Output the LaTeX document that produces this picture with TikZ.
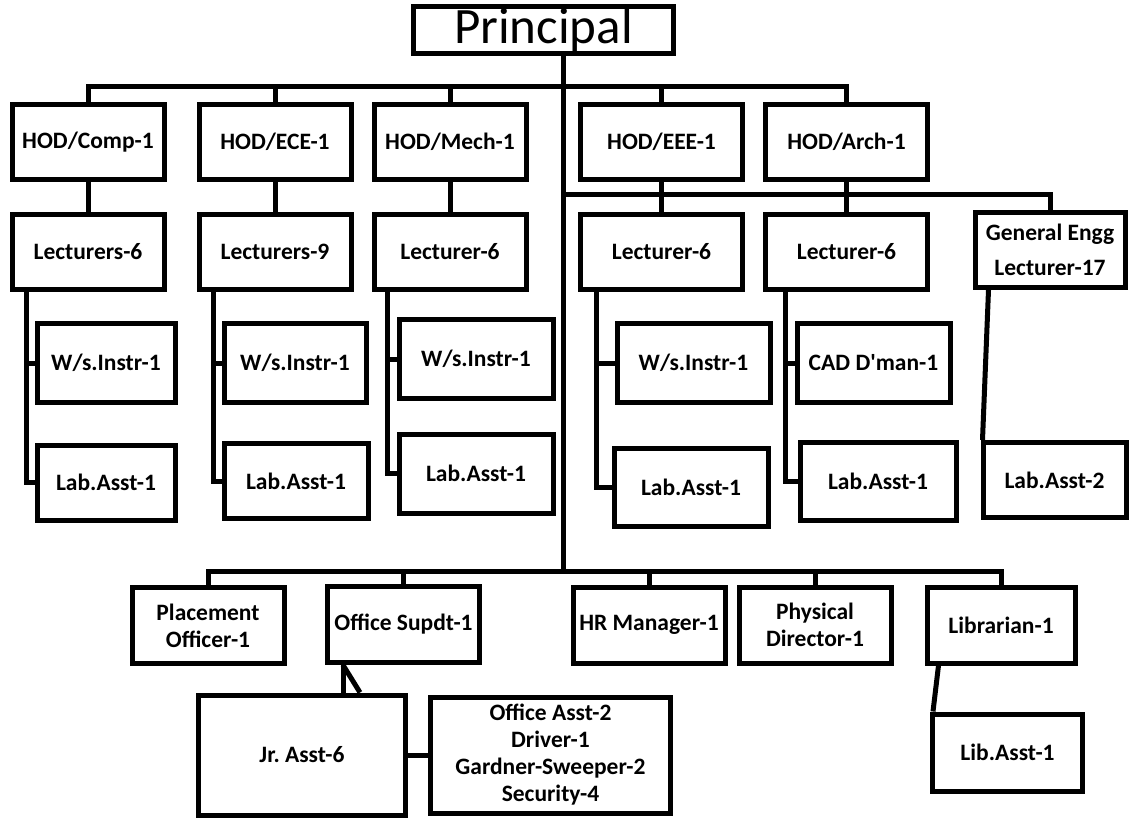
\documentclass[tikz,border=0pt]{standalone}
\usepackage{fontspec}
\setmainfont{Carlito}[Ligatures=TeXOff]
\usetikzlibrary{positioning}
\frenchspacing

\begin{document}
\begin{tikzpicture}[x=1pt,y=-1pt,
	post/.style={draw, line width=5pt, inner sep=2pt, align=center,
		font=\bfseries\fontsize{23.5}{27}\selectfont, minimum width=152pt, minimum height=75pt},
	link/.style={line width=5pt},
	node distance=30pt]
	\useasboundingbox (0,0) rectangle (1130,818);

	\node[post, font=\fontsize{51}{54}\selectfont, minimum width=260pt, minimum height=43pt] (princ) at (543.5,30) {Principal};

	% heads of department
	\node[post] (hodcomp) at (88,142) {HOD/Comp-1};
	\node[post] (hodece) [right = 30pt of hodcomp] {HOD/ECE-1};
	\node[post] (hodmech) [right = 18pt of hodece] {HOD/Mech-1};
	\node[post, minimum width=162pt] (hodeee) at (661.5,142) {HOD/EEE-1};
	\node[post, minimum width=162pt] (hodarch) [right = 18pt of hodeee] {HOD/Arch-1};

	% lecturers
	\node[post] (lectcomp) [below = of hodcomp] {Lecturers-6};
	\node[post] (lectece) [below = of hodece] {Lecturers-9};
	\node[post] (lectmech) [below = of hodmech] {Lecturer-6};
	\node[post, minimum width=162pt] (lecteee) [below = of hodeee] {Lecturer-6};
	\node[post, minimum width=162pt] (lectarch) [below = of hodarch] {Lecturer-6};
	\node[post, font=\bfseries\fontsize{23.5}{35}\selectfont, minimum width=150pt, minimum height=75pt] (lectgen) at (1050,250) {General Engg\\Lecturer-17};

	% workshop, drawing and lab staff
	\node[post, minimum width=138pt, minimum height=78pt] (techcomp) at (106,363) {W/s.Instr-1};
	\node[post, minimum width=138pt] (labcomp) [below = 38pt of techcomp] {Lab.Asst-1};
	\node[post, minimum width=142pt, minimum height=78pt] (techece) at (295,363) {W/s.Instr-1};
	\node[post, minimum width=144pt] (labece) at (296,481) {Lab.Asst-1};
	\node[post, minimum width=154pt, minimum height=78pt] (techmech) at (476,359) {W/s.Instr-1};
	\node[post, minimum width=154pt, minimum height=79pt] (labmech) at (476,473.5) {Lab.Asst-1};
	\node[post, minimum width=153pt, minimum height=78pt] (techeee) at (693.5,363) {W/s.Instr-1};
	\node[post, minimum width=154pt, minimum height=78pt] (labeee) at (691,487) {Lab.Asst-1};
	\node[post, minimum width=153pt, minimum height=78pt] (techarch) at (873.5,363) {CAD D'man-1};
	\node[post, minimum width=156pt, minimum height=78pt] (labarch) at (878,481) {Lab.Asst-1};
	\node[post, minimum width=143pt] (labgen) at (1054.5,480) {Lab.Asst-2};

	% administration
	\node[post, minimum height=76pt] (placement) at (208,625.5) {Placement\\Officer-1};
	\node[post, minimum height=76pt] (supdt) at (403.5,624.5) {Office Supdt-1};
	\node[post, minimum height=76pt] (hrm) at (649,625) {HR Manager-1};
	\node[post, minimum height=76pt] (phys) at (815,625) {Physical\\Director-1};
	\node[post, minimum width=148pt, minimum height=76pt] (librarian) at (1001,625) {Librarian-1};

	\node[post, minimum width=207pt, minimum height=120pt] (jrasst) at (302,755) {Jr. Asst-6};
	\node[post, minimum width=240pt, minimum height=116pt] (offasst) [right = 20pt of jrasst] {Office Asst-2\\Driver-1\\Gardner-Sweeper-2\\Security-4};
	\node[post, minimum width=150pt, minimum height=77pt] (libasst) at (1007.5,752.5) {Lib.Asst-1};

	% connectors
	\coordinate (topbar) at (563,87);
	\coordinate (midbar) at (563,195);
	\coordinate (botbar) at (563,571);

	\draw[link] (princ.south -| topbar) -- (botbar);
	\draw[link] (hodcomp.north) |- (topbar) -| (hodarch.north);
	\foreach \n in {hodece,hodmech,hodeee}
		\draw[link] (\n.north) -- (\n.north |- topbar);
	\foreach \n in {comp,ece,mech,eee,arch}
		\draw[link] (hod\n) -- (lect\n);
	\draw[link] (midbar) -| (lectgen.north);

	\foreach \n/\d in {comp/17,ece/17,mech/16,eee/18,arch/22}{
		\coordinate (v\n) at ([xshift=\d pt]lect\n.south west);
		\draw[link] (v\n) |- (lab\n.west);
		\draw[link] (v\n |- tech\n.west) -- (tech\n.west);
	}
	\draw[link] ([xshift=16pt]lectgen.south west) -- ([xshift=2pt]labgen.north west);

	\draw[link] (placement.north) |- (botbar) -| (librarian.north);
	\foreach \n in {supdt,hrm,phys}
		\draw[link] (\n.north) -- (\n.north |- botbar);

	\coordinate (sv) at ([xshift=18pt]supdt.south west);
	\draw[link] (sv) -- (sv |- jrasst.north);
	\draw[link] (sv) -- ([xshift=164pt]jrasst.north west);
	\draw[link] (jrasst) -- (offasst);
	\draw[link] ([xshift=14pt]librarian.south west) -- ([xshift=3pt]libasst.north west);
\end{tikzpicture}
\end{document}
